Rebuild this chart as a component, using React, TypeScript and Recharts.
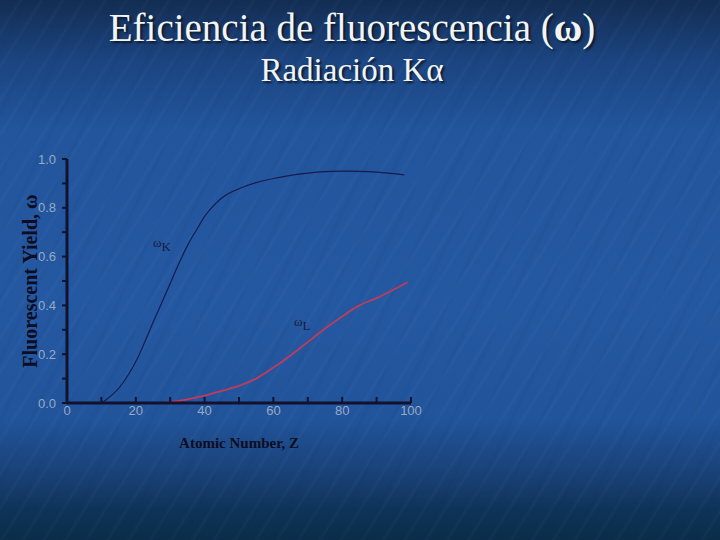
import React from 'react';
import {
  LineChart,
  Line,
  XAxis,
  YAxis,
  ReferenceDot,
  Label,
} from 'recharts';

// Atomic number Z
const kZ = [10, 12, 15, 18, 20, 22, 25, 28, 30, 32, 35, 38, 40, 42, 44, 46, 50, 55, 60, 65, 70, 75, 80, 85, 90, 95, 98];
// Fluorescent yield omega_K
const kYield = [0, 0.02, 0.06, 0.12, 0.17, 0.23, 0.33, 0.425, 0.49, 0.555, 0.645, 0.718, 0.765, 0.8, 0.828, 0.85, 0.878, 0.903, 0.92, 0.933, 0.942, 0.948, 0.95, 0.949, 0.946, 0.94, 0.935];

const lZ = [10, 20, 28, 30, 35, 40, 45, 50, 55, 60, 65, 70, 75, 80, 85, 90, 95, 99];
const lYield = [0, 0, 0, 0.004, 0.015, 0.03, 0.05, 0.07, 0.1, 0.145, 0.195, 0.25, 0.305, 0.355, 0.4, 0.43, 0.465, 0.495];

const xTicks = [0, 10, 20, 30, 40, 50, 60, 70, 80, 90, 100];
const yTicks = [0, 0.1, 0.2, 0.3, 0.4, 0.5, 0.6, 0.7, 0.8, 0.9, 1.0];

const curveLabels = [
  { z: 25, y: 0.64, sub: 'K' },
  { z: 66, y: 0.315, sub: 'L' },
];

const kData = kZ.map((z, i) => ({ z, w: kYield[i] }));
const lData = lZ.map((z, i) => ({ z, w: lYield[i] }));

const AXIS = '#12122e';
const TICK_TEXT = '#98a9c4';
const SERIF = '"Liberation Serif", "Times New Roman", serif';

const App: React.FC = () => {
  return (
    <div
      style={{
        position: 'absolute',
        left: 0,
        top: 0,
        width: 720,
        height: 540,
        overflow: 'hidden',
        background:
          'linear-gradient(to bottom, #132d52 0px, #1b4480 60px, #22559c 130px, #2458a1 300px, #21549a 420px, #183f72 480px, #0e3358 510px, #0b2d4a 540px)',
      }}
    >
      <div
        style={{
          position: 'absolute',
          inset: 0,
          background:
            'repeating-linear-gradient(-58deg, rgba(170,200,240,0) 0px, rgba(170,200,240,0) 13px, rgba(170,200,240,0.035) 15px, rgba(170,200,240,0) 18px), repeating-linear-gradient(-64deg, rgba(10,30,70,0) 0px, rgba(10,30,70,0) 21px, rgba(10,30,70,0.05) 24px, rgba(10,30,70,0) 27px)',
        }}
      />
      <div
        style={{
          position: 'absolute',
          top: 4,
          left: -8,
          width: 720,
          textAlign: 'center',
          fontFamily: SERIF,
          color: '#f4f4f4',
          textShadow: '2px 2px 2px #0a1a30',
        }}
      >
        <div style={{ fontSize: 39, lineHeight: '48px' }}>
          Eficiencia de fluorescencia (<b>ω</b>)
        </div>
        <div style={{ fontSize: 33, lineHeight: '36px' }}>Radiación Kα</div>
      </div>
      <div style={{ position: 'absolute', left: 0, top: 0 }}>
        <LineChart
          width={720}
          height={540}
          margin={{ top: 159, right: 309, bottom: 92, left: 7 }}
        >
          <XAxis
            type="number"
            dataKey="z"
            domain={[0, 100]}
            ticks={xTicks}
            interval={0}
            allowDataOverflow
            height={45}
            stroke={AXIS}
            axisLine={{ stroke: AXIS, strokeWidth: 3 }}
            tickLine={{ stroke: AXIS, strokeWidth: 2 }}
            tickSize={-6}
            tickMargin={9}
            tickFormatter={(v: number) => (v % 20 === 0 ? String(v) : '')}
            tick={{ fill: TICK_TEXT, fontSize: 13, fontFamily: 'Liberation Sans, Arial, sans-serif' }}
          >
            <Label
              value="Atomic Number, Z"
              position="insideBottom"
              offset={0}
              style={{ fill: '#0c0c22', fontSize: 15, fontWeight: 'bold', fontFamily: SERIF }}
            />
          </XAxis>
          <YAxis
            type="number"
            domain={[0, 1]}
            ticks={yTicks}
            interval={0}
            width={60}
            stroke={AXIS}
            axisLine={{ stroke: AXIS, strokeWidth: 3 }}
            tickLine={{ stroke: AXIS, strokeWidth: 2 }}
            tickSize={5}
            tickMargin={6}
            tickFormatter={(v: number) => (Math.round(v * 10) % 2 === 0 ? v.toFixed(1) : '')}
            tick={{ fill: TICK_TEXT, fontSize: 13, fontFamily: 'Liberation Sans, Arial, sans-serif' }}
          >
            <Label
              value="Fluorescent Yield, ω"
              angle={-90}
              position="insideLeft"
              offset={23}
              style={{ fill: '#0c0c22', fontSize: 20, fontWeight: 'bold', fontFamily: SERIF, textAnchor: 'middle' }}
            />
          </YAxis>
          <Line
            data={kData}
            dataKey="w"
            type="monotone"
            stroke="#1a1a4e"
            strokeWidth={1.2}
            dot={false}
            isAnimationActive={false}
          />
          <Line
            data={lData}
            dataKey="w"
            type="monotone"
            stroke="#c23a5c"
            strokeWidth={1.8}
            dot={false}
            isAnimationActive={false}
          />
          {curveLabels.map((c) => (
            <ReferenceDot
              key={c.sub}
              x={c.z}
              y={c.y}
              r={0}
              shape={(p: any) => (
                <text x={p.cx} y={p.cy} fill="#1a1a40" fontFamily={SERIF}>
                  <tspan fontSize={13}>ω</tspan>
                  <tspan fontSize={13} dy={4}>
                    {c.sub}
                  </tspan>
                </text>
              )}
            />
          ))}
        </LineChart>
      </div>
    </div>
  );
};

export default App;
